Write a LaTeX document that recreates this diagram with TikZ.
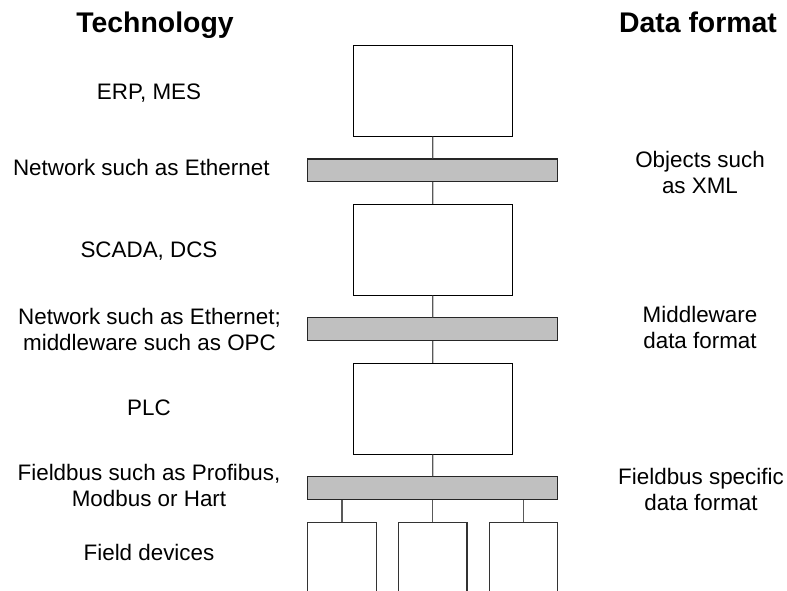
\documentclass[tikz,border=0pt]{standalone}
\usepackage{fontspec}
\setmainfont{Liberation Sans}
\begin{document}
\begin{tikzpicture}[x=1pt,y=-1pt,
  lbl/.style={font=\fontsize{22.4}{25.8}\selectfont, anchor=base, align=center, inner sep=0pt},
  head/.style={font=\fontsize{28.4}{32}\selectfont\bfseries, anchor=base, inner sep=0pt},
  sysbox/.style={draw=black, line width=1.1pt, fill=white, minimum width=159pt, minimum height=90.7pt, inner sep=0pt, anchor=center},
  busbar/.style={draw=black!85, line width=1.1pt, fill={rgb,255:red,192;green,192;blue,192}, minimum width=250pt, minimum height=22.7pt, inner sep=0pt, anchor=center},
  devbox/.style={draw=black!80, line width=1.1pt, fill=white, minimum width=68.6pt, minimum height=90pt, inner sep=0pt, anchor=north},
  link/.style={draw=black!65, line width=1.3pt}]
\useasboundingbox (0,0) rectangle (787,590);
\clip (0,0) rectangle (787,590);

% column headings
\node[head] (hTech) at (155,32.7) {Technology};
\node[head] (hData) at (698,32.7) {Data format};

% technology labels (two-line labels are placed by their last baseline)
\node[lbl] (tErp)   at (149,99)      {ERP, MES};
\node[lbl] (tNet1)  at (141.3,175.7) {Network such as Ethernet};
\node[lbl] (tScada) at (149,257.3)   {SCADA, DCS};
\node[lbl] (tNet2)  at (149.5,350)   {Network such as Ethernet;\\middleware such as OPC};
\node[lbl] (tPlc)   at (149,415)     {PLC};
\node[lbl] (tBus)   at (149,506)     {Fieldbus such as Profibus,\\Modbus or Hart};
\node[lbl] (tDev)   at (149,560)     {Field devices};

% data format labels
\node[lbl] (dObj) at (700,193.3) {Objects such\\as XML};
\node[lbl] (dMid) at (700,348.3) {Middleware\\data format};
\node[lbl] (dBus) at (701,510)   {Fieldbus specific\\data format};

% system levels and buses
\node[sysbox] (erp)   at (432.8,90.7)  {};
\node[busbar] (net1)  at (432.7,170.3) {};
\node[sysbox] (scada) at (432.8,249.7) {};
\node[busbar] (net2)  at (432.7,329.2) {};
\node[sysbox] (plc)   at (432.8,408.7) {};
\node[busbar] (fbus)  at (432.7,488)   {};

% field devices (cut off at the lower edge)
\node[devbox] (dev1) at (342,521.7)   {};
\node[devbox] (dev2) at (432.7,521.7) {};
\node[devbox] (dev3) at (523.4,521.7) {};

% vertical links
\draw[link] (erp.south)   -- (net1.north);
\draw[link] (net1.south)  -- (scada.north);
\draw[link] (scada.south) -- (net2.north);
\draw[link] (net2.south)  -- (plc.north);
\draw[link] (plc.south)   -- (fbus.north);
\draw[link] (dev1.north) -- (dev1.north |- fbus.south);
\draw[link] (dev2.north) -- (fbus.south);
\draw[link] (dev3.north) -- (dev3.north |- fbus.south);
\end{tikzpicture}
\end{document}
